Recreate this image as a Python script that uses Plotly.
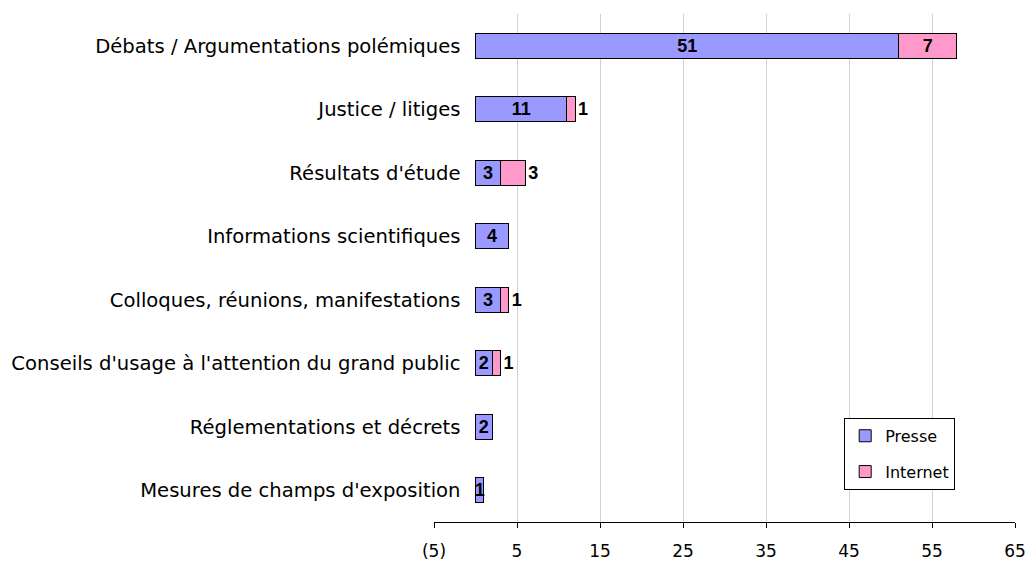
import plotly.graph_objects as go

categories = [
    "Débats / Argumentations polémiques",
    "Justice / litiges",
    "Résultats d'étude",
    "Informations scientifiques",
    "Colloques, réunions, manifestations",
    "Conseils d'usage à l'attention du grand public",
    "Réglementations et décrets",
    "Mesures de champs d'exposition",
]
presse = [51, 11, 3, 4, 3, 2, 2, 1]
internet = [7, 1, 3, 0, 1, 1, 0, 0]
tick_vals = [-5, 5, 15, 25, 35, 45, 55, 65]
tick_text = ["(5)", "5", "15", "25", "35", "45", "55", "65"]

FONT = "DejaVu Sans, Liberation Sans, Arial, sans-serif"
BFONT = "Liberation Sans, Arial, sans-serif"

internet_text = [str(v) if v > 0 else "" for v in internet]
internet_pos = ["inside" if v >= 5 else "outside" for v in internet]

fig = go.Figure()
fig.add_trace(go.Bar(
    y=categories, x=presse, orientation="h", name="Presse",
    marker=dict(color="#9999FF", line=dict(color="black", width=1)),
    text=[str(v) for v in presse], textposition="inside", textangle=0,
    insidetextanchor="middle", constraintext="none",
    textfont=dict(family=BFONT, size=18, color="black", weight="bold"),
    width=0.4, legendgroup="a",
))
fig.add_trace(go.Bar(
    y=categories, x=internet, orientation="h", name="Internet",
    marker=dict(color="#FF99CC", line=dict(color="black", width=1)),
    text=internet_text, textposition=internet_pos, textangle=0,
    insidetextanchor="middle", constraintext="none",
    textfont=dict(family=BFONT, size=18, color="black", weight="bold"),
    width=0.4, legendgroup="b", cliponaxis=False,
))

fig.update_layout(
    barmode="stack",
    width=1029, height=565,
    margin=dict(l=434, r=14, t=14, b=43, autoexpand=False),
    paper_bgcolor="white", plot_bgcolor="white",
    font=dict(family=FONT, size=17, color="black"),
    showlegend=True,
    legend=dict(
        x=0.706, y=0.205, xanchor="left", yanchor="top",
        bgcolor="white", bordercolor="black", borderwidth=1,
        font=dict(family=FONT, size=16, color="black"),
        traceorder="grouped", tracegroupgap=12, itemwidth=30,
    ),
    xaxis=dict(
        range=[-5, 65], tickvals=tick_vals, ticktext=tick_text,
        showgrid=True, gridcolor="#D0D0D0", gridwidth=1,
        zeroline=False, showline=True, linecolor="black", linewidth=1,
        ticks="outside", ticklen=5, tickcolor="black",
        ticklabelstandoff=9,
        tickfont=dict(family=FONT, size=17, color="black"),
        automargin=False, fixedrange=True,
    ),
    yaxis=dict(
        autorange="reversed", anchor="free", position=5 / 70,
        showgrid=False, zeroline=False, showline=False, ticks="",
        ticklabelstandoff=15, automargin=False, fixedrange=True,
        tickfont=dict(family=FONT, size=19.6, color="black"),
    ),
)

fig.write_html(
    "out.html",
    config={"displayModeBar": False},
    post_script="document.body.style.margin='0';document.body.style.overflow='hidden';",
)
